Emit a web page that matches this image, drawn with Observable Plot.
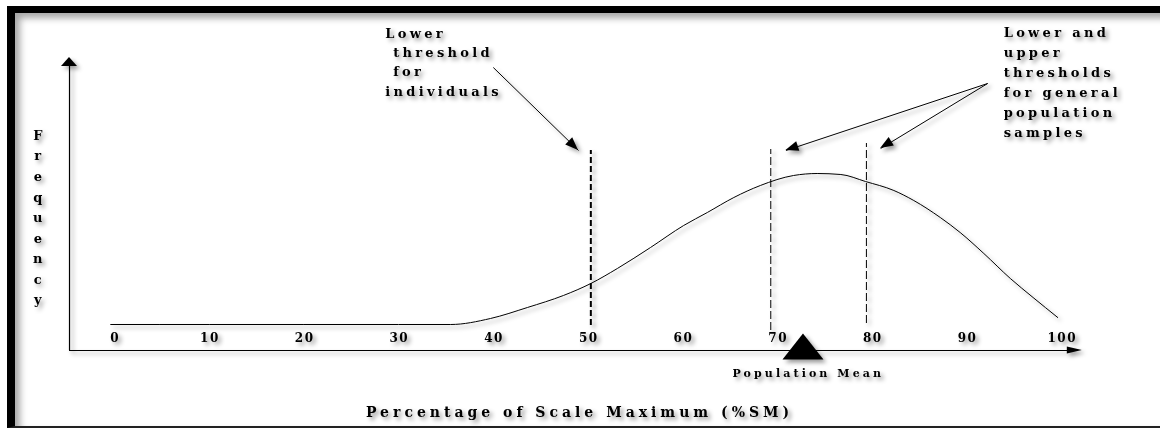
<!DOCTYPE html>
<html>
<head>
<meta charset="utf-8">
<script src="https://cdn.jsdelivr.net/npm/d3@7"></script>
<script src="https://cdn.jsdelivr.net/npm/@observablehq/plot@0.6"></script>
<style>
  body { margin: 0; background: #fff; }
  #wrap { position: relative; width: 1160px; height: 428px; overflow: hidden; background: #fff; }
  #frame { position: absolute; left: 7px; top: 6px; width: 1200px; height: 422px; box-sizing: border-box;
           border-left: 8px solid #000; border-top: 7px solid #000; border-bottom: 2px solid #222;
           box-shadow: inset 5px 5px 7px rgba(0,0,0,0.35); }
  #chart { position: absolute; left: 0; top: 0; }
  #chart svg { filter: drop-shadow(3px 3px 2px rgba(0,0,0,0.4)); overflow: visible; }
  #chart svg text { font-family: "DejaVu Serif", serif; font-weight: bold; fill: #000; }
</style>
</head>
<body>
<div id="wrap"><div id="frame"></div><div id="chart"></div></div>
<script>
// ---- data ----
const xTicks = [0, 10, 20, 30, 40, 50, 60, 70, 80, 90, 100];
const curveX = [-0.4, 10, 20, 30, 35.5, 39.7, 43.6, 47.4, 50.3, 53.1, 56.6, 60.1, 62.6, 65.4, 68.2, 71.7, 74.2, 76.7, 79.3, 82.3, 84.4, 87.2, 89.3, 91.8, 94.6, 97.0, 99.6];
const curveY = [26, 26, 26, 26, 26, 32, 43, 55, 67, 82, 103, 125, 138, 153, 165, 175, 177, 176, 169, 160, 150, 133, 118, 97, 72, 53, 33];
const individualThreshold = [50.3];
const generalThresholds = [69.3, 79.4];
const generalThresholdBottom = [20, 27];
const generalThresholdTop = [201, 207];
const populationMean = [72.7];

const xLabel = "Percentage of Scale Maximum (%SM)";
const yLabel = "Frequency";
const meanLabel = "Population Mean";
const noteLeft = "Lower\n threshold\n for\nindividuals";
const noteRight = "Lower and\nupper\nthresholds\nfor general\npopulation\nsamples";

// ---- derived tables ----
const curve = curveX.map((x, i) => ({x, y: curveY[i]}));
const genRules = generalThresholds.map((x, i) => ({x, y1: generalThresholdBottom[i], y2: generalThresholdTop[i]}));
const arrows = [
  {x1: 40.0, y1: 283, x2: 49.0, y2: 200, len: 13, half: 5},
  {x1: 92.2, y1: 267, x2: 70.9, y2: 200, len: 13, half: 5},
  {x1: 92.2, y1: 267, x2: 80.9, y2: 202, len: 13, half: 5}
];
const axisHeads = [
  {x1: -4.75, y1: 0, x2: -4.75, y2: 293, len: 9, half: 8},
  {x1: -4.75, y1: 0, x2: 102.2, y2: 0, len: 15, half: 3.5}
];

// filled arrowheads drawn through the plot's scales
function heads(specs) {
  return (index, scales) => {
    const g = d3.create("svg:g").attr("fill", "#000");
    for (const h of specs) {
      const px1 = scales.x(h.x1), py1 = scales.y(h.y1), px2 = scales.x(h.x2), py2 = scales.y(h.y2);
      const d = Math.hypot(px2 - px1, py2 - py1), ux = (px2 - px1) / d, uy = (py2 - py1) / d;
      const bx = px2 - ux * h.len, by = py2 - uy * h.len;
      g.append("path").attr("d",
        `M${px2},${py2}L${bx - uy * h.half},${by + ux * h.half}L${bx + uy * h.half},${by - ux * h.half}Z`);
    }
    return g.node();
  };
}

const flatTriangle = {
  draw(context, size) {
    const r = Math.sqrt(size / Math.PI);
    context.moveTo(0, -0.63 * r);
    context.lineTo(r, 0.63 * r);
    context.lineTo(-r, 0.63 * r);
    context.closePath();
  }
};

const plot = Plot.plot({
  width: 1160,
  height: 428,
  marginLeft: 114,
  marginRight: 99,
  marginTop: 50,
  marginBottom: 78,
  style: {background: "transparent", overflow: "visible"},
  x: {domain: [0, 100], axis: null},
  y: {domain: [0, 300], axis: null},
  marks: [
    // axes lines
    Plot.ruleY([0], {x1: -4.75, x2: 101, stroke: "#000", strokeWidth: 1.2}),
    Plot.ruleX([-4.75], {y1: 0, y2: 286, stroke: "#000", strokeWidth: 1.2}),
    heads(axisHeads),
    Plot.axisX(xTicks, {tickSize: 0, dy: -26, fontSize: 12, label: null}),
    // curve
    Plot.line(curve, {x: "x", y: "y", curve: "monotone-x", stroke: "#000", strokeWidth: 1}),
    // thresholds
    Plot.ruleX(individualThreshold, {y1: 25, y2: 200, stroke: "#000", strokeWidth: 2, strokeDasharray: "6,3"}),
    Plot.ruleX(genRules, {x: "x", y1: "y1", y2: "y2", stroke: "#000", strokeWidth: 1, strokeDasharray: "8,3"}),
    // annotation arrows
    Plot.link(arrows, {x1: "x1", y1: "y1", x2: "x2", y2: "y2", stroke: "#000", strokeWidth: 1}),
    heads(arrows),
    // population mean
    Plot.dot(populationMean, {x: d => d, y: 4, r: 20.5, symbol: flatTriangle, fill: "#000", stroke: null}),
    Plot.text([meanLabel], {x: 73.1, y: -23, text: d => d, fontSize: 11, ariaDescription: "mean label"}),
    // labels
    Plot.text([xLabel], {x: 48.9, y: -62, text: d => d, fontSize: 14, ariaDescription: "x label"}),
    Plot.text([yLabel.split("").join("\n")], {x: -8.1, y: 135, text: d => d, fontSize: 13, lineHeight: 1.58, lineAnchor: "middle"}),
    Plot.text([noteLeft], {x: 28.6, y: 290, text: d => d, fontSize: 13, lineHeight: 1.5, lineAnchor: "middle", textAnchor: "start", ariaDescription: "note"}),
    Plot.text([noteRight], {x: 93.9, y: 270, text: d => d, fontSize: 13, lineHeight: 1.54, lineAnchor: "middle", textAnchor: "start", ariaDescription: "note"})
  ]
});
document.getElementById("chart").appendChild(plot);

// wide letter spacing of the original lettering (via textLength)
const spacing = [
  ['g[aria-label="x-axis tick label"]', 1.5],
  ['g[aria-description="x label"]', 4.0],
  ['g[aria-description="mean label"]', 3.1],
  ['g[aria-description="note"]', 3.3]
];
for (const [sel, ls] of spacing) {
  plot.querySelectorAll(`${sel} text`).forEach(t => {
    const parts = t.querySelectorAll("tspan");
    const els = parts.length ? Array.from(parts) : [t];
    els.forEach(el => {
      const n = el.textContent.length;
      if (n < 2) return;
      const w = el.getComputedTextLength();
      el.setAttribute("textLength", w + ls * (n - 1));
      el.setAttribute("lengthAdjust", "spacing");
    });
  });
}
</script>
</body>
</html>
